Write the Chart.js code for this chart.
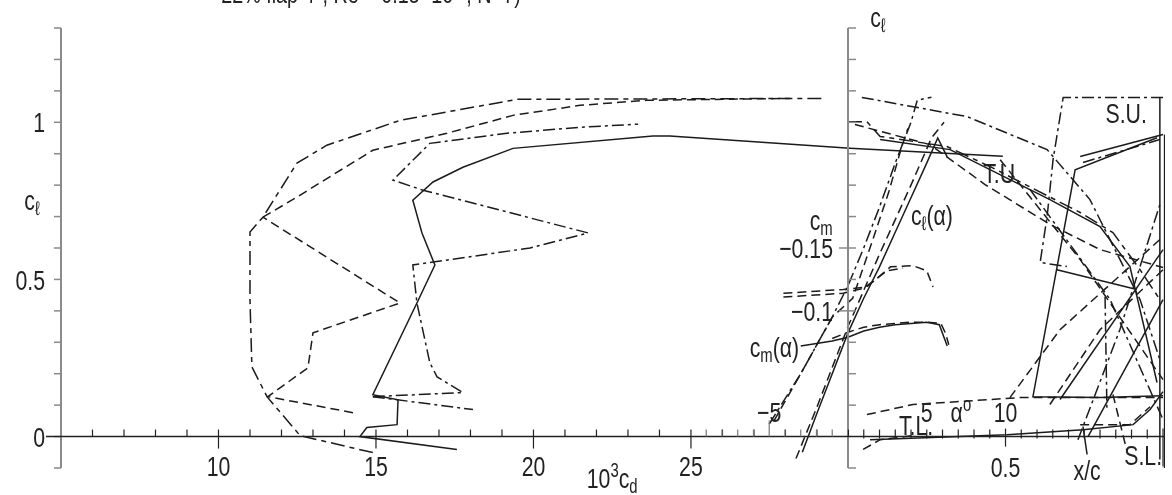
<!DOCTYPE html>
<html>
<head>
<meta charset="utf-8">
<script src="https://cdn.jsdelivr.net/npm/chart.js@4.4.0/dist/chart.umd.min.js"></script>
<style>
html, body { margin: 0; padding: 0; background: #fff; }
</style>
</head>
<body>
<canvas id="polar" width="1172" height="495"></canvas>
<script>
// ---- drag polars, 10^3 c_d against c_l ----
const solidCd = [17.57, 14.49, 14.71, 15.67, 15.70, 14.90, 16.30, 16.87, 16.46, 16.17, 16.81, 17.76, 19.35, 23.79, 24.33, 30.05, 34.9];
const solidCl = [-0.041, 0, 0.029, 0.038, 0.117, 0.133, 0.425, 0.546, 0.648, 0.752, 0.810, 0.857, 0.917, 0.956, 0.956, 0.917, 0.892];
const outerCd = [14.90, 12.59, 11.54, 11.06, 11.0, 11.0, 11.41, 12.49, 13.44, 15.76, 19.48, 29.16];
const outerCl = [-0.051, 0.003, 0.127, 0.222, 0.435, 0.651, 0.698, 0.870, 0.927, 1.006, 1.073, 1.076];
const upperCd = [11.41, 12.49, 14.90, 17.25, 19.35, 21.48, 23.60, 28.14];
const upperCl = [0.698, 0.762, 0.911, 0.965, 1.022, 1.054, 1.070, 1.076];
const zigCd = [14.27, 11.57, 12.84, 13.0, 15.76, 11.41];
const zigCl = [0.076, 0.127, 0.219, 0.330, 0.425, 0.698];
const spikeCd = [14.90, 17.76, 16.94, 16.71, 16.30, 16.17, 16.87, 19.89, 21.73, 16.49, 15.54, 16.71, 19.16, 21.48, 23.32];
const spikeCl = [0.127, 0.140, 0.190, 0.235, 0.425, 0.546, 0.556, 0.600, 0.648, 0.784, 0.816, 0.933, 0.965, 0.984, 0.994];
const stubCd = [14.90, 18.08];
const stubCl = [0.127, 0.086];

// ---- lift and moment against alpha ----
const claSolidA = [-2.9, -2, -1, 0, 1, 2, 3, 4, 5, 5.7, 6.3];
const claSolidCl = [-0.05, 0.07, 0.2, 0.33, 0.44, 0.54, 0.65, 0.76, 0.87, 0.95, 0.89];
const claDashA = [-3.3, -2, 0, 2, 4, 5.3, 6.1];
const claDashCl = [-0.07, 0.09, 0.35, 0.58, 0.8, 0.95, 1.0];
const claDotA = [-5, -4, -3, -2, -1, 0, 1, 2, 3, 4, 4.4, 5.3];
const claDotCl = [0.04, 0.12, 0.2, 0.29, 0.38, 0.48, 0.6, 0.73, 0.87, 1.0, 1.07, 1.08];
const claDash2A = [-4.7, -3, -1, 0.3, 1.6, 2.6, 3.4, 3.8];
const claDash2Cl = [0.05, 0.2, 0.38, 0.44, 0.63, 0.78, 0.92, 0.98];
const cmaSolidA = [-3, -2, -1, 0, 1, 2, 3, 4, 5, 5.8, 6.3];
const cmaSolidCm = [-0.072, -0.074, -0.076, -0.079, -0.084, -0.087, -0.089, -0.09, -0.091, -0.089, -0.072];
const cmaDashA = [-1, 0, 1, 2, 3, 4, 5, 5.9, 6.2, 6.4];
const cmaDashCm = [-0.078, -0.083, -0.087, -0.089, -0.09, -0.091, -0.091, -0.09, -0.082, -0.073];
const cmaUpA = [-4.1, -0.3, 1.2, 2.7, 4.1, 5.0, 5.4];
const cmaUpCm = [-0.114, -0.117, -0.119, -0.135, -0.136, -0.132, -0.119];
const cmaUp2A = [-4.1, -0.3, 1.0, 2.5, 3.5];
const cmaUp2Cm = [-0.111, -0.114, -0.118, -0.132, -0.134];

// ---- transition / separation positions, x/c against c_l ----
const tuSolidXc = [0.102, 0.324, 0.641, 0.8, 0.895, 0.981];
const tuSolidCl = [0.945, 0.913, 0.754, 0.668, 0.541, 0.172];
const tuDashXc = [0.022, 0.26, 0.435, 0.641, 0.8, 1.0];
const tuDashCl = [0.993, 0.929, 0.802, 0.675, 0.595, 0.538];
const tuDotXc = [0.044, 0.378, 0.632, 0.768, 0.927, 0.99];
const tuDotCl = [1.079, 1.018, 0.913, 0.754, 0.436, 0.245];
const tuDash2Xc = [0, 0.06, 0.102, 0.314, 0.451, 0.737, 0.841, 0.927, 0.99];
const tuDash2Cl = [1.002, 1.002, 0.955, 0.923, 0.859, 0.713, 0.649, 0.531, 0.436];
const suDotXc = [1.0, 0.683, 0.651, 0.632, 0.61, 0.695];
const suDotCl = [1.079, 1.079, 0.881, 0.7, 0.554, 0.541];
const suSolidXc = [0.981, 0.721, 0.587, 0.8, 1.0];
const suSolidCl = [0.951, 0.849, 0.127, 0.124, 0.13];
const suSolid2Xc = [0.737, 1.0];
const suSolid2Cl = [0.891, 0.961];
const suDot2Xc = [0.746, 0.99];
const suDot2Cl = [0.872, 0.945];
const midSolidXc = [0.663, 0.917];
const midSolidCl = [0.531, 0.468];
const diag1Xc = [0.514, 0.673, 0.99];
const diag1Cl = [0.124, 0.34, 0.627];
const diag2Xc = [0.641, 0.8, 1.0];
const diag2Cl = [0.102, 0.34, 0.531];
const diag3Xc = [0.73, 0.863, 0.99];
const diag3Cl = [-0.01, 0.34, 0.738];
const diag4Xc = [0.762, 1.0];
const diag4Cl = [0, 0.436];
const diag5Xc = [0.673, 1.0];
const diag5Cl = [0.118, 0.595];
const fall1Xc = [0.483, 0.737, 1.0];
const fall1Cl = [0.881, 0.563, 0.181];
const fall2Xc = [0.578, 0.832, 1.0];
const fall2Cl = [0.786, 0.436, 0.054];
const vertDotXc = [0.816, 0.822];
const vertDotCl = [0.445, 0.086];
const edge1Xc = [0.99, 0.99];
const edge1Cl = [1.079, -0.073];
const edge2Xc = [1.005, 1.005];
const edge2Cl = [0.961, -0.105];
const tlSolidXc = [0.07, 0.505, 0.746, 0.905, 0.959, 1.0];
const tlSolidCl = [-0.01, 0.006, 0.022, 0.038, 0.086, 0.143];
const tlDashXc = [0.06, 0.206, 0.546, 1.0];
const tlDashCl = [0.07, 0.102, 0.124, 0.124];
const tlShortXc = [0.048, 0.102, 0.206];
const tlShortCl = [-0.041, -0.01, 0.003];
const tlDash2Xc = [0.737, 0.895, 0.959];
const tlDash2Cl = [0.038, 0.038, 0.095];
const slSolidXc = [0.746, 0.759];
const slSolidCl = [0.032, -0.057];
const slDashXc = [0.841, 0.886];
const slDashCl = [0.134, -0.048];

// ---- tick labels ----
const cdTicks = [10, 15, 20, 25];
const clTicks = [0, 0.5, 1];
const clTickLabels = ['0', '0.5', '1'];
const cmTicks = [-0.15, -0.1];
const cmTickLabels = ['\u22120.15', '\u22120.1'];
const alphaTicks = [-5, 5, 10];
const alphaTickLabels = ['\u22125', '5', '10'];
const xcTicks = [0.5];

const INK = '#1b1b1b';
const SOLID = [];
const DASH = [9, 5];
const LONG = [14, 5, 5, 5];
const DOT = [12, 4, 3, 4];

function curve(xs, ys, dash, xAxisID, yAxisID) {
    return {
        data: xs.map((v, i) => ({ x: v, y: ys[i] })),
        borderColor: INK,
        borderWidth: 1.5,
        borderDash: dash,
        xAxisID: xAxisID || 'x',
        yAxisID: yAxisID || 'y',
        showLine: true,
        pointRadius: 0,
        tension: 0
    };
}

const FONT = '"Liberation Sans", Arial, sans-serif';

// text drawn a little condensed, like the plotter lettering
function label(ctx, parts, x, y, align, size) {
    size = size || 28;
    const sx = 0.76;
    let w = 0;
    const items = parts.map(p => {
        const s = typeof p === 'string' ? [p, 'n'] : p;
        const fs = s[1] === 'n' ? size : size * 0.7;
        ctx.font = fs + 'px ' + FONT;
        const m = ctx.measureText(s[0]).width * sx;
        w += m;
        return { t: s[0], fs: fs, w: m, dy: s[1] === 'sub' ? size * 0.2 : s[1] === 'sup' ? -size * 0.38 : 0 };
    });
    let cx = align === 'right' ? x - w : align === 'left' ? x : x - w / 2;
    const base = y + size * 0.36;
    ctx.fillStyle = '#222';
    ctx.textAlign = 'left';
    ctx.textBaseline = 'alphabetic';
    items.forEach(it => {
        ctx.font = it.fs + 'px ' + FONT;
        ctx.save();
        ctx.translate(cx, base + it.dy);
        ctx.scale(sx, 1);
        ctx.fillText(it.t, 0, 0);
        ctx.restore();
        cx += it.w;
    });
}

function seg(ctx, x1, y1, x2, y2) {
    ctx.beginPath();
    ctx.moveTo(x1, y1);
    ctx.lineTo(x2, y2);
    ctx.stroke();
}

const axesPlugin = {
    id: 'axes',
    afterDatasetsDraw(chart) {
        const ctx = chart.ctx;
        const s = chart.scales;
        const X = v => s.x.getPixelForValue(v);
        const XC = v => s.xc.getPixelForValue(v);
        const XA = v => s.xa.getPixelForValue(v);
        const Y = v => s.y.getPixelForValue(v);
        const YM = v => s.ycm.getPixelForValue(v);
        const y0 = Y(0), top = Y(1.3), bot = Y(-0.1);
        const xL = X(5), xR = XC(0);
        ctx.save();

        // vertical axes
        ctx.strokeStyle = '#8a8a8a';
        ctx.lineWidth = 2;
        seg(ctx, xL, top, xL, bot);
        seg(ctx, xR, top, xR, bot);
        ctx.lineWidth = 1.5;
        for (let k = -1; k <= 13; k++) {
            const py = Y(k / 10);
            seg(ctx, xL - 7, py, xL, py);
            if (k !== 0) seg(ctx, xR, py, xR + 8, py);
        }
        cmTicks.forEach(v => seg(ctx, xR - 9, YM(v), xR, YM(v)));

        // bottom axis at c_l = 0
        ctx.strokeStyle = '#222';
        ctx.lineWidth = 1.5;
        seg(ctx, xL - 15, y0, XC(1.0) + 2, y0);
        ctx.lineWidth = 1.2;
        for (let k = 6; k <= 30; k++) {
            const px = X(k);
            if (cdTicks.includes(k)) seg(ctx, px, y0 - 7, px, y0 + 12);
            else seg(ctx, px, y0 - 7, px, y0);
        }
        ctx.strokeStyle = '#777';
        for (let k = -9; k <= -1; k++) {
            const px = XA(k);
            seg(ctx, px, y0 - (k === -5 ? 16 : 7), px, y0);
        }
        ctx.strokeStyle = '#222';
        for (let k = 1; k <= 20; k++) {
            const px = XC(k / 20);
            if (k === 10) seg(ctx, px, y0 - 8, px, y0 + 10);
            else if (k === 20) seg(ctx, px, y0 - 8, px, y0 + 30);
            else seg(ctx, px, y0 - 7, px, y0 + 2);
        }

        // tick labels
        const rowY = Y(-0.092);
        cdTicks.forEach(v => label(ctx, [String(v)], X(v), rowY, 'center'));
        xcTicks.forEach(v => label(ctx, [String(v)], XC(v), Y(-0.098), 'center'));
        clTicks.forEach((v, i) => label(ctx, [clTickLabels[i]], xL - 16, Y(v), 'right'));
        cmTicks.forEach((v, i) => label(ctx, [cmTickLabels[i]], xR - 15, YM(v), 'right'));
        alphaTicks.forEach((v, i) => label(ctx, [alphaTickLabels[i]], XA(v), Y(0.08), 'center'));

        // axis titles and curve names
        label(ctx, ['22% flap 4\u00b0, Re = 0.15\u00d710', ['6', 'sup'], ' , N=7)'], X(14.84), Y(1.41), 'center', 26);
        label(ctx, ['c', ['\u2113', 'sub']], X(4.08), Y(0.754), 'center');
        label(ctx, ['c', ['\u2113', 'sub']], XC(0.095), Y(1.336), 'center');
        label(ctx, ['10', ['3', 'sup'], 'c', ['d', 'sub']], X(22.5), Y(-0.13), 'center');
        label(ctx, ['c', ['m', 'sub']], XA(-1.7), YM(-0.1726), 'center');
        label(ctx, ['c', ['m', 'sub'], '(\u03b1)'], XA(-3.1), Y(0.286), 'right');
        label(ctx, ['c', ['\u2113', 'sub'], '(\u03b1)'], XA(5.33), Y(0.706), 'center');
        label(ctx, ['\u03b1', ['o', 'sup']], XA(7.17), Y(0.08), 'center');
        label(ctx, ['T.U.'], XC(0.489), Y(0.84), 'center');
        label(ctx, ['S.U.'], XC(0.883), Y(1.031), 'center');
        label(ctx, ['T.L.'], XC(0.216), Y(0.038), 'center');
        label(ctx, ['S.L.'], XC(0.937), Y(-0.057), 'center');
        label(ctx, ['x/c'], XC(0.759), Y(-0.105), 'center');
        ctx.restore();
    }
};

new Chart(document.getElementById('polar').getContext('2d'), {
    type: 'scatter',
    data: {
        datasets: [
            curve(solidCd, solidCl, SOLID),
            curve(outerCd, outerCl, LONG),
            curve(upperCd, upperCl, DASH),
            curve(zigCd, zigCl, DASH),
            curve(spikeCd, spikeCl, DOT),
            curve(stubCd, stubCl, DOT),

            curve(claSolidA, claSolidCl, SOLID, 'xa', 'y'),
            curve(claDashA, claDashCl, DASH, 'xa', 'y'),
            curve(claDotA, claDotCl, DOT, 'xa', 'y'),
            curve(claDash2A, claDash2Cl, DASH, 'xa', 'y'),
            curve(cmaSolidA, cmaSolidCm, SOLID, 'xa', 'ycm'),
            curve(cmaDashA, cmaDashCm, DASH, 'xa', 'ycm'),
            curve(cmaUpA, cmaUpCm, DASH, 'xa', 'ycm'),
            curve(cmaUp2A, cmaUp2Cm, DASH, 'xa', 'ycm'),

            curve(tuSolidXc, tuSolidCl, SOLID, 'xc', 'y'),
            curve(tuDashXc, tuDashCl, DASH, 'xc', 'y'),
            curve(tuDotXc, tuDotCl, DOT, 'xc', 'y'),
            curve(tuDash2Xc, tuDash2Cl, LONG, 'xc', 'y'),
            curve(suDotXc, suDotCl, DOT, 'xc', 'y'),
            curve(suSolidXc, suSolidCl, SOLID, 'xc', 'y'),
            curve(suSolid2Xc, suSolid2Cl, SOLID, 'xc', 'y'),
            curve(suDot2Xc, suDot2Cl, DOT, 'xc', 'y'),
            curve(midSolidXc, midSolidCl, SOLID, 'xc', 'y'),
            curve(diag1Xc, diag1Cl, DASH, 'xc', 'y'),
            curve(diag2Xc, diag2Cl, DASH, 'xc', 'y'),
            curve(diag3Xc, diag3Cl, DOT, 'xc', 'y'),
            curve(diag4Xc, diag4Cl, SOLID, 'xc', 'y'),
            curve(diag5Xc, diag5Cl, SOLID, 'xc', 'y'),
            curve(fall1Xc, fall1Cl, DASH, 'xc', 'y'),
            curve(fall2Xc, fall2Cl, DOT, 'xc', 'y'),
            curve(vertDotXc, vertDotCl, DOT, 'xc', 'y'),
            curve(edge1Xc, edge1Cl, SOLID, 'xc', 'y'),
            curve(edge2Xc, edge2Cl, SOLID, 'xc', 'y'),
            curve(tlSolidXc, tlSolidCl, SOLID, 'xc', 'y'),
            curve(tlDashXc, tlDashCl, DASH, 'xc', 'y'),
            curve(tlShortXc, tlShortCl, DASH, 'xc', 'y'),
            curve(tlDash2Xc, tlDash2Cl, DASH, 'xc', 'y'),
            curve(slSolidXc, slSolidCl, SOLID, 'xc', 'y'),
            curve(slDashXc, slDashCl, DASH, 'xc', 'y')
        ]
    },
    options: {
        responsive: false,
        animation: false,
        devicePixelRatio: 1,
        layout: { padding: { left: 61, right: 7, top: 28, bottom: 27 } },
        plugins: {
            legend: { display: false },
            tooltip: { enabled: false }
        },
        scales: {
            x: { type: 'linear', display: false, min: 5, max: 40.05 },
            xc: { type: 'linear', display: false, min: -2.4984, max: 1.0063 },
            xa: { type: 'linear', display: false, min: -49.97, max: 20.13 },
            y: { type: 'linear', display: false, min: -0.1, max: 1.3 },
            ycm: { type: 'linear', display: false, min: -0.325, max: 0.025, reverse: true }
        }
    },
    plugins: [axesPlugin]
});
</script>
</body>
</html>
